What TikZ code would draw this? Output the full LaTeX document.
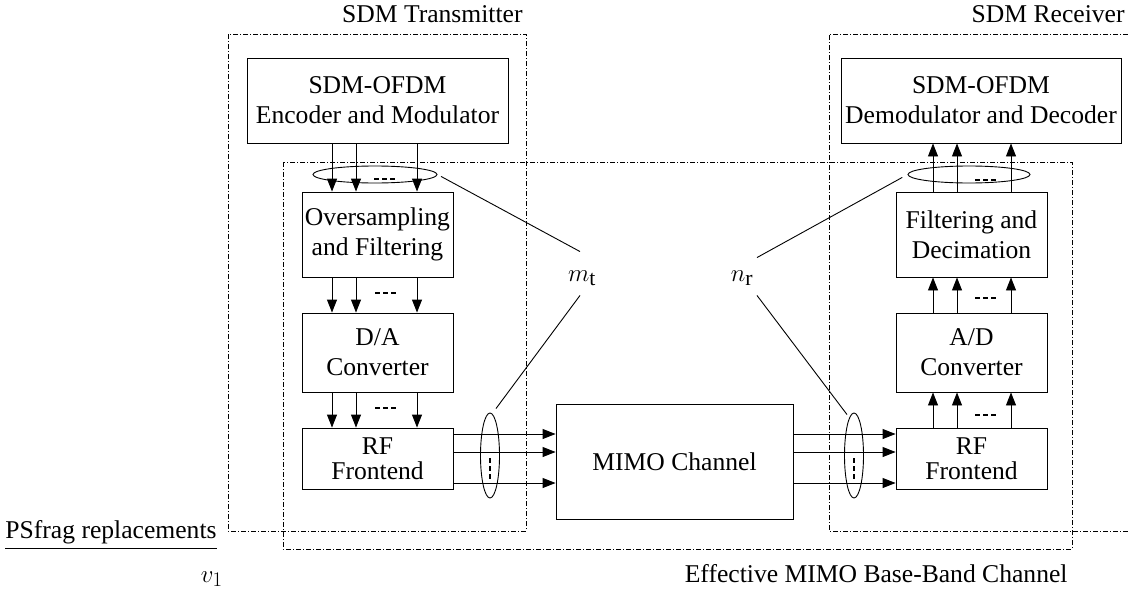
\documentclass[tikz,border=0pt]{standalone}
\usepackage{fontspec}
\setmainfont{Liberation Serif}
\usetikzlibrary{arrows.meta,shapes.geometric}
\tikzset{
  every picture/.style={line width=0.9pt},
  blk/.style={draw, align=center, inner sep=0pt, font=\fontsize{25.6}{30}\selectfont},
  lbl/.style={inner sep=0pt, font=\fontsize{25.6}{30}\selectfont},
  mlbl/.style={inner sep=0pt, font=\fontsize{31}{36}\selectfont},
  arr/.style={-{Triangle[length=13pt,width=10pt]}},
  ddash/.style={dash pattern=on 5pt off 2pt on 1pt off 2pt, line width=0.8pt},
  dotsh/.style={line width=1.8pt, dash pattern=on 5pt off 3pt},
  ell/.style={draw, ellipse, inner sep=0pt},
}
\begin{document}
\begin{tikzpicture}[x=1pt,y=-1pt]
\useasboundingbox (0,0) rectangle (1128,589);
% dash-dot boxes
\draw[ddash] (228,34) rectangle (526,531);
\draw[ddash] (1128,34) -- (829,34) -- (829,531) -- (1128,531);
\draw[ddash] (283,162) rectangle (1072,549);
% titles
\node[lbl, anchor=base east] (ttx) at (523,22) {SDM Transmitter};
\node[lbl, anchor=base east] (trx) at (1125,22) {SDM Receiver};
\node[lbl, anchor=base east] (teff) at (1068,582) {Effective MIMO Base-Band Channel};
\node[lbl, anchor=base west, inner ysep=4pt] (psf) at (5,538) {PSfrag replacements};
\draw (psf.south west) -- (psf.south east);
\node[mlbl, anchor=base east] (v1) at (223,582) {$v_1$};
% blocks
\node[blk, minimum width=261, minimum height=85] (enc) at (377.5,100.5) {SDM-OFDM\\Encoder and Modulator};
\node[blk, minimum width=280, minimum height=85] (dec) at (981,100.5) {SDM-OFDM\\Demodulator and Decoder};
\node[blk, minimum width=151, minimum height=85] (ovs) at (377.5,234.5) {Oversampling\\and Filtering};
\node[blk, minimum width=151, minimum height=79] (da) at (377.5,352.5) {D/A\\Converter};
\node[blk, minimum width=151, minimum height=61] (rftx) at (377.5,458.5) {RF\\[-5pt]Frontend};
\node[blk, minimum width=237, minimum height=115] (mimo) at (674.5,461.5) {MIMO Channel};
\node[blk, minimum width=151, minimum height=61] (rfrx) at (971.5,458.5) {RF\\[-5pt]Frontend};
\node[blk, minimum width=151, minimum height=79] (ad) at (971.5,352.5) {A/D\\Converter};
\node[blk, minimum width=151, minimum height=85] (fd) at (971.5,234.5) {Filtering and\\Decimation};
% columns and rows
\coordinate (t1) at (332,0); \coordinate (t2) at (356,0); \coordinate (t3) at (417,0);
\coordinate (r1) at (933,0); \coordinate (r2) at (957,0); \coordinate (r3) at (1011,0);
\coordinate (h1) at (0,434); \coordinate (h2) at (0,452); \coordinate (h3) at (0,483);
% TX vertical arrows
\foreach \c in {t1,t2,t3} {
  \draw[arr] (\c |- enc.south) -- (\c |- ovs.north);
  \draw[arr] (\c |- ovs.south) -- (\c |- da.north);
  \draw[arr] (\c |- da.south) -- (\c |- rftx.north);
}
% RX vertical arrows
\foreach \c in {r1,r2,r3} {
  \draw[arr] (\c |- rfrx.north) -- (\c |- ad.south);
  \draw[arr] (\c |- ad.north) -- (\c |- fd.south);
  \draw[arr] (\c |- fd.north) -- (\c |- dec.south);
}
% horizontal arrows
\foreach \h in {h1,h2,h3} {
  \draw[arr] (rftx.east |- \h) -- (mimo.west |- \h);
  \draw[arr] (mimo.east |- \h) -- (rfrx.west |- \h);
}
% dots
\draw[dotsh] (374,179) -- (395,179);
\draw[dotsh] (375,293) -- (396,293);
\draw[dotsh] (375,408) -- (396,408);
\draw[dotsh] (975,180) -- (996,180);
\draw[dotsh] (975,298) -- (996,298);
\draw[dotsh] (975,415) -- (996,415);
\draw[line width=1.8pt, dash pattern=on 5pt off 3pt] (490,458) -- (490,479);
\draw[line width=1.8pt, dash pattern=on 5pt off 3pt] (854,458) -- (854,479);
% ellipses
\node[ell, minimum width=124, minimum height=17] (etx) at (375,174.5) {};
\node[ell, minimum width=122, minimum height=17] (erx) at (969,174.5) {};
\node[ell, minimum width=19, minimum height=85] (etb) at (490,455.5) {};
\node[ell, minimum width=19, minimum height=85] (erb) at (854,455.5) {};
% labels
\node[mlbl, minimum height=38] (mt) at (582,278) {$m_{\mathrm{t}}$};
\node[mlbl, minimum height=38] (nr) at (742,278) {$n_{\mathrm{r}}$};
% connectors
\draw[shorten <=4pt] (etx.east) -- ([xshift=-2pt,yshift=7pt]mt.north);
\draw ([xshift=-2pt,yshift=2pt]mt.south) -- ([xshift=6pt,yshift=4pt]etb.north);
\draw[shorten <=6pt] (erx.west) -- ([xshift=15pt,yshift=1pt]nr.north);
\draw ([xshift=15pt,yshift=2pt]nr.south) -- ([xshift=-7pt,yshift=-2pt]erb.north);
\end{tikzpicture}
\end{document}
